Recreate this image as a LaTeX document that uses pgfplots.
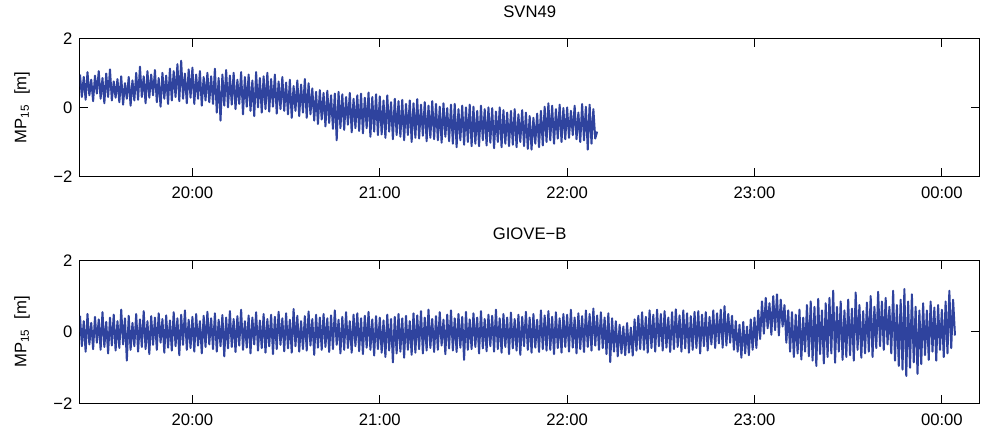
\documentclass[border=0pt]{standalone}
\usepackage{fontspec}
\setmainfont{Liberation Sans}
\usepackage{pgfplots}
\usepackage{pgfplotstable}
\pgfplotsset{compat=1.18}
\definecolor{mpblue}{RGB}{47,67,158}

% MP15 samples, one every 0.01 h starting at 19:24 (19.40 h)
\pgfplotstableread[row sep=\\]{
y\\
0.95\\0.30\\0.88\\0.22\\1.02\\0.35\\0.80\\0.18\\0.92\\0.40\\
1.05\\0.25\\0.85\\0.12\\0.98\\0.30\\1.10\\0.20\\0.75\\0.28\\
0.82\\0.15\\0.90\\0.08\\0.70\\0.25\\0.88\\0.05\\0.78\\0.20\\
1.00\\0.22\\1.18\\0.30\\0.90\\0.12\\1.05\\0.28\\0.95\\0.35\\
1.08\\0.15\\0.85\\0.02\\1.00\\0.25\\0.92\\0.10\\1.12\\0.20\\
1.05\\0.30\\1.25\\0.18\\1.35\\0.25\\0.98\\0.12\\1.10\\0.28\\
1.15\\0.10\\0.95\\0.25\\1.05\\0.05\\0.88\\0.20\\1.00\\0.15\\
0.90\\0.10\\1.12\\-0.15\\0.85\\-0.38\\0.95\\0.05\\1.08\\0.00\\
0.92\\0.08\\1.00\\-0.05\\0.80\\0.10\\1.02\\-0.20\\0.88\\0.02\\
0.95\\-0.10\\0.78\\-0.25\\1.02\\0.00\\0.85\\-0.15\\0.90\\-0.05\\
1.00\\-0.12\\0.82\\0.02\\0.95\\-0.18\\0.75\\-0.05\\0.88\\-0.10\\
0.72\\-0.20\\0.80\\-0.30\\0.62\\-0.10\\0.78\\-0.25\\0.66\\-0.15\\
0.82\\-0.30\\0.70\\-0.20\\0.55\\-0.38\\0.45\\-0.48\\0.50\\-0.35\\
0.42\\-0.55\\0.48\\-0.45\\0.35\\-0.62\\0.40\\-0.95\\0.45\\-0.60\\
0.38\\-0.65\\0.30\\-0.50\\0.42\\-0.72\\0.25\\-0.60\\0.35\\-0.68\\
0.40\\-0.75\\0.28\\-0.60\\0.43\\-0.85\\0.30\\-0.70\\0.38\\-0.80\\
0.32\\-0.78\\0.20\\-0.88\\0.35\\-0.70\\0.15\\-0.92\\0.25\\-0.80\\
0.18\\-0.85\\0.22\\-0.95\\0.10\\-0.80\\0.20\\-1.00\\0.12\\-0.88\\
0.24\\-0.90\\0.08\\-0.82\\0.15\\-0.98\\0.05\\-0.88\\0.18\\-0.92\\
0.10\\-0.95\\0.02\\-1.02\\0.12\\-0.85\\-0.02\\-0.98\\0.08\\-1.05\\
0.10\\-1.15\\-0.05\\-0.95\\0.05\\-1.08\\0.00\\-1.00\\0.08\\-1.12\\
0.02\\-1.05\\-0.10\\-1.12\\0.05\\-0.95\\-0.05\\-1.10\\0.00\\-1.02\\
-0.02\\-1.18\\-0.12\\-1.00\\0.00\\-1.15\\-0.08\\-1.05\\-0.15\\-1.12\\
-0.10\\-1.08\\-0.05\\-1.15\\-0.20\\-1.00\\-0.08\\-1.12\\-0.15\\-1.20\\
-0.25\\-1.22\\-0.30\\-1.05\\-0.18\\-1.15\\-0.10\\-1.10\\0.02\\-1.00\\
0.12\\-0.95\\0.05\\-1.05\\-0.05\\-0.90\\0.08\\-1.00\\-0.02\\-0.92\\
0.00\\-0.88\\-0.10\\-0.80\\0.05\\-0.92\\-0.15\\-1.00\\0.10\\-0.95\\
0.02\\-1.22\\0.08\\-1.05\\-0.05\\-0.90\\-0.70\\
}\svnfour

\pgfplotstableread[row sep=\\]{
y\\
0.45\\-0.40\\0.30\\-0.55\\0.50\\-0.35\\0.25\\-0.48\\0.42\\-0.30\\
0.35\\-0.50\\0.55\\-0.42\\0.28\\-0.60\\0.40\\-0.38\\0.48\\-0.52\\
0.30\\-0.45\\0.62\\-0.35\\0.38\\-0.80\\0.45\\-0.50\\0.25\\-0.40\\
0.50\\-0.55\\0.35\\-0.42\\0.58\\-0.48\\0.30\\-0.62\\0.44\\-0.36\\
0.40\\-0.50\\0.52\\-0.30\\0.36\\-0.58\\0.46\\-0.44\\0.32\\-0.52\\
0.55\\-0.40\\0.38\\-0.65\\0.48\\-0.36\\0.60\\-0.50\\0.34\\-0.45\\
0.42\\-0.55\\0.50\\-0.38\\0.30\\-0.60\\0.45\\-0.42\\0.56\\-0.35\\
0.38\\-0.48\\0.52\\-0.55\\0.34\\-0.40\\0.47\\-0.68\\0.40\\-0.46\\
0.58\\-0.42\\0.36\\-0.56\\0.44\\-0.38\\0.62\\-0.50\\0.30\\-0.44\\
0.46\\-0.60\\0.40\\-0.35\\0.55\\-0.52\\0.32\\-0.45\\0.50\\-0.58\\
0.36\\-0.40\\0.48\\-0.62\\0.42\\-0.48\\0.56\\-0.36\\0.38\\-0.54\\
0.52\\-0.46\\0.34\\-0.58\\0.64\\-0.40\\0.45\\-0.55\\0.30\\-0.48\\
0.44\\-0.52\\0.57\\-0.38\\0.36\\-0.64\\0.48\\-0.44\\0.40\\-0.50\\
0.50\\-0.42\\0.38\\-0.56\\0.46\\-0.48\\0.60\\-0.36\\0.34\\-0.60\\
0.42\\-0.50\\0.55\\-0.45\\0.30\\-0.58\\0.48\\-0.40\\0.52\\-0.54\\
0.38\\-0.62\\0.45\\-0.44\\0.56\\-0.50\\0.35\\-0.66\\0.44\\-0.48\\
0.40\\-0.58\\0.32\\-0.70\\0.48\\-0.52\\0.36\\-0.85\\0.42\\-0.60\\
0.50\\-0.55\\0.38\\-0.72\\0.45\\-0.50\\0.30\\-0.64\\0.52\\-0.58\\
0.46\\-0.48\\0.58\\-0.60\\0.40\\-0.52\\0.62\\-0.45\\0.36\\-0.56\\
0.44\\-0.50\\0.55\\-0.38\\0.34\\-0.62\\0.48\\-0.46\\0.60\\-0.52\\
0.38\\-0.56\\0.50\\-0.44\\0.42\\-0.78\\0.56\\-0.50\\0.35\\-0.48\\
0.52\\-0.42\\0.40\\-0.60\\0.58\\-0.46\\0.36\\-0.54\\0.48\\-0.40\\
0.45\\-0.55\\0.62\\-0.48\\0.38\\-0.58\\0.50\\-0.42\\0.40\\-0.62\\
0.54\\-0.46\\0.36\\-0.52\\0.48\\-0.64\\0.42\\-0.40\\0.56\\-0.50\\
0.40\\-0.58\\0.50\\-0.44\\0.34\\-0.56\\0.60\\-0.48\\0.46\\-0.52\\
0.58\\-0.50\\0.42\\-0.62\\0.55\\-0.45\\0.38\\-0.58\\0.50\\-0.42\\
0.48\\-0.55\\0.62\\-0.44\\0.40\\-0.60\\0.52\\-0.48\\0.44\\-0.56\\
0.60\\-0.42\\0.50\\-0.52\\0.65\\-0.38\\0.46\\-0.50\\0.55\\-0.45\\
0.40\\-0.62\\0.52\\-0.84\\0.38\\-0.55\\0.30\\-0.68\\0.20\\-0.60\\
0.15\\-0.65\\0.25\\-0.58\\0.12\\-0.66\\0.35\\-0.52\\0.45\\-0.48\\
0.55\\-0.50\\0.42\\-0.58\\0.60\\-0.45\\0.48\\-0.55\\0.62\\-0.40\\
0.50\\-0.52\\0.58\\-0.44\\0.40\\-0.56\\0.55\\-0.48\\0.63\\-0.42\\
0.46\\-0.55\\0.60\\-0.46\\0.52\\-0.58\\0.44\\-0.50\\0.56\\-0.45\\
0.58\\-0.60\\0.48\\-0.40\\0.55\\-0.52\\0.42\\-0.35\\0.60\\-0.45\\
0.52\\-0.32\\0.62\\-0.44\\0.72\\-0.38\\0.50\\-0.30\\0.45\\-0.50\\
0.30\\-0.55\\0.20\\-0.72\\0.28\\-0.60\\0.15\\-0.65\\0.35\\-0.50\\
0.40\\-0.45\\0.60\\-0.20\\0.85\\-0.05\\0.95\\0.10\\0.80\\-0.08\\
1.00\\0.05\\1.05\\-0.10\\0.90\\0.15\\0.75\\-0.30\\0.60\\-0.55\\
0.55\\-0.70\\0.48\\-0.60\\0.62\\-0.77\\0.40\\-0.55\\0.75\\-0.68\\
0.85\\-0.80\\0.70\\-0.95\\0.92\\-0.62\\0.60\\-0.88\\0.80\\-0.70\\
0.95\\-0.60\\1.15\\-0.86\\0.70\\-0.55\\0.85\\-0.78\\0.60\\-0.70\\
0.90\\-0.65\\0.65\\-0.80\\1.10\\-0.50\\0.75\\-0.72\\0.58\\-0.60\\
0.82\\-0.55\\1.00\\-0.70\\0.70\\-0.45\\1.12\\-0.40\\0.85\\-0.50\\
0.95\\-0.35\\0.70\\-0.60\\1.15\\-0.80\\0.75\\-0.95\\0.90\\-1.05\\
1.20\\-1.23\\0.85\\-1.00\\1.05\\-0.85\\0.70\\-1.17\\0.60\\-0.90\\
0.80\\-0.65\\0.60\\-0.78\\0.85\\-0.55\\0.68\\-0.80\\0.75\\-0.50\\
0.62\\-0.70\\0.85\\-0.60\\1.15\\-0.45\\0.90\\-0.10\\
}\giove

\pgfplotsset{mpax/.style={
    scale only axis,
    width=539.6pt,
    xmin=19.4, xmax=24.2,
    ymin=-2, ymax=2,
    xtick={20,21,22,23,24},
    xticklabels={20:00,21:00,22:00,23:00,00:00},
    ytick={-2,0,2},
    yticklabels={−2,0,2},
    tick align=inside,
    major tick length=5pt,
    axis line style={line width=0.6pt},
    every tick/.style={black, line width=0.6pt},
    xticklabel style={yshift=-2.5pt},
    yticklabel style={xshift=-1pt},
    ylabel={MP\textsubscript{15}\ \ [m]},
    ylabel style={at={(axis description cs:-0.0645,0.5)}, anchor=center},
    title style={yshift=3pt},
    /pgf/number format/assume math mode=true,
}}

\begin{document}
\begin{tikzpicture}
    \begin{axis}[mpax, name=top, at={(0,0)}, anchor=north west,
        height=83pt, title={SVN49}]
        \addplot[mpblue, line width=1.2pt, line join=round, no markers]
            table[x expr={19.4+0.01*\coordindex}, y=y]{\svnfour};
    \end{axis}

    \begin{axis}[mpax, name=bot, at={(0,-133.2pt)}, anchor=north west,
        height=86pt, title={GIOVE−B}]
        \addplot[mpblue, line width=1.2pt, line join=round, no markers]
            table[x expr={19.4+0.01*\coordindex}, y=y]{\giove};
    \end{axis}

    % page frame with the reference's margins
    \path (top.north west) ++(-48pt,21.4pt) rectangle ++(596.4pt,-259.8pt);
\end{tikzpicture}
\end{document}
